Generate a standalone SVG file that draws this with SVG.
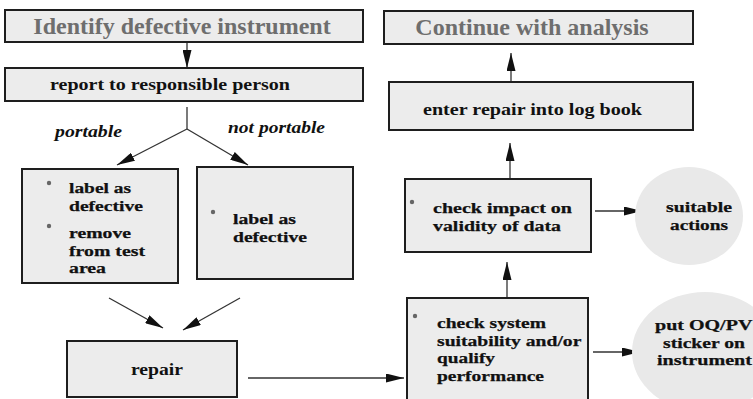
<svg xmlns="http://www.w3.org/2000/svg" width="753" height="399" viewBox="0 0 753 399">
  <defs>
    <marker id="arrow" markerUnits="userSpaceOnUse" markerWidth="18" markerHeight="9" refX="18" refY="4.5" orient="auto">
      <path d="M0,0 L18,4.5 L0,9 z" fill="#111"/>
    </marker>
    <style>
      .box { fill: #ececec; stroke: #1e1e1e; stroke-width: 2; }
      .oval { fill: #e9e9e9; stroke: none; }
      .title { font-family: "Liberation Serif", "Times New Roman", serif; font-weight: bold; font-size: 24px; fill: #6e6e6e; }
      .t { font-family: "Liberation Serif", "Times New Roman", serif; font-weight: bold; font-size: 15.5px; fill: #111; stroke: #111; stroke-width: 0.25; }
      .t1 { font-family: "Liberation Serif", "Times New Roman", serif; font-weight: bold; font-size: 17.5px; fill: #111; }
      .it { font-family: "Liberation Serif", "Times New Roman", serif; font-weight: bold; font-style: italic; font-size: 17.5px; fill: #111; }
      .mid { text-anchor: middle; }
      .dot { fill: #666; }
      .conn line { stroke: #333; stroke-width: 1.3; fill: none; }
    </style>
  </defs>
  <rect width="753" height="399" fill="#ffffff"/>

  <!-- connectors -->
  <g class="conn">
    <line x1="187" y1="42" x2="187" y2="68" marker-end="url(#arrow)"/>
    <line x1="187" y1="107" x2="187" y2="129"/>
    <line x1="187" y1="129" x2="117" y2="165" marker-end="url(#arrow)"/>
    <line x1="187" y1="129" x2="248" y2="165" marker-end="url(#arrow)"/>
    <line x1="109" y1="298" x2="163" y2="328" marker-end="url(#arrow)"/>
    <line x1="240" y1="298" x2="183" y2="330" marker-end="url(#arrow)"/>
    <line x1="248" y1="378" x2="404" y2="378" marker-end="url(#arrow)"/>
    <line x1="507" y1="298" x2="507" y2="262" marker-end="url(#arrow)"/>
    <line x1="510" y1="190" x2="510" y2="143" marker-end="url(#arrow)"/>
    <line x1="511" y1="100" x2="511" y2="53" marker-end="url(#arrow)"/>
    <line x1="595" y1="211" x2="642" y2="211" marker-end="url(#arrow)"/>
    <line x1="593" y1="352" x2="640" y2="352" marker-end="url(#arrow)"/>
  </g>

  <!-- branch labels -->
  <text class="it" x="55" y="137" textLength="67" lengthAdjust="spacingAndGlyphs">portable</text>
  <text class="it" x="228" y="133" textLength="97" lengthAdjust="spacingAndGlyphs">not portable</text>

  <g id="identify">
    <rect class="box" x="5" y="10" width="358" height="32"/>
    <text class="title mid" x="182" y="34">Identify defective instrument</text>
  </g>

  <g id="report">
    <rect class="box" x="5" y="68" width="358" height="33"/>
    <text class="t1" x="50" y="90" textLength="240" lengthAdjust="spacingAndGlyphs">report to responsible person</text>
  </g>

  <g id="portable">
    <rect class="box" x="22" y="169" width="156" height="114"/>
    <circle class="dot" cx="49" cy="183" r="2.2"/>
    <circle class="dot" cx="49" cy="226" r="2.2"/>
    <text class="t">
      <tspan x="69" y="193" textLength="62" lengthAdjust="spacingAndGlyphs">label as</tspan>
      <tspan x="69" y="210.5" textLength="74" lengthAdjust="spacingAndGlyphs">defective</tspan>
      <tspan x="69" y="238" textLength="62" lengthAdjust="spacingAndGlyphs">remove</tspan>
      <tspan x="69" y="255.5" textLength="76" lengthAdjust="spacingAndGlyphs">from test</tspan>
      <tspan x="69" y="273" textLength="37" lengthAdjust="spacingAndGlyphs">area</tspan>
    </text>
  </g>

  <g id="not-portable">
    <rect class="box" x="197" y="167" width="156" height="112"/>
    <circle class="dot" cx="213" cy="212" r="2.2"/>
    <text class="t">
      <tspan x="233" y="224" textLength="63" lengthAdjust="spacingAndGlyphs">label as</tspan>
      <tspan x="233" y="242" textLength="74" lengthAdjust="spacingAndGlyphs">defective</tspan>
    </text>
  </g>

  <g id="repair">
    <rect class="box" x="67" y="341" width="170" height="56"/>
    <text class="t1" x="131" y="375" textLength="52" lengthAdjust="spacingAndGlyphs">repair</text>
  </g>

  <g id="check-system">
    <rect class="box" x="407" y="298" width="181" height="106"/>
    <circle class="dot" cx="415" cy="316" r="2.2"/>
    <text class="t">
      <tspan x="437" y="328" textLength="109" lengthAdjust="spacingAndGlyphs">check system</tspan>
      <tspan x="437" y="345.5" textLength="144" lengthAdjust="spacingAndGlyphs">suitability and/or</tspan>
      <tspan x="437" y="363" textLength="58" lengthAdjust="spacingAndGlyphs">qualify</tspan>
      <tspan x="437" y="380.5" textLength="107" lengthAdjust="spacingAndGlyphs">performance</tspan>
    </text>
  </g>

  <g id="check-impact">
    <rect class="box" x="405" y="179" width="186" height="73"/>
    <circle class="dot" cx="412" cy="202" r="2.2"/>
    <text class="t">
      <tspan x="433" y="213" textLength="139" lengthAdjust="spacingAndGlyphs">check impact on</tspan>
      <tspan x="433" y="231" textLength="128" lengthAdjust="spacingAndGlyphs">validity of data</tspan>
    </text>
  </g>

  <g id="log-book">
    <rect class="box" x="389" y="82" width="304" height="48"/>
    <text class="t1" x="423" y="115" textLength="219" lengthAdjust="spacingAndGlyphs">enter repair into log book</text>
  </g>

  <g id="continue">
    <rect class="box" x="384" y="11" width="309" height="33"/>
    <text class="title mid" x="532" y="35">Continue with analysis</text>
  </g>

  <g id="suitable-actions">
    <ellipse class="oval" cx="689" cy="216" rx="54" ry="49"/>
    <text class="t">
      <tspan x="666" y="212" textLength="66" lengthAdjust="spacingAndGlyphs">suitable</tspan>
      <tspan x="670" y="229.5" textLength="58" lengthAdjust="spacingAndGlyphs">actions</tspan>
    </text>
  </g>

  <g id="sticker">
    <ellipse class="oval" cx="705" cy="352" rx="73" ry="60"/>
    <text class="t">
      <tspan x="655" y="330" textLength="97" lengthAdjust="spacingAndGlyphs">put OQ/PV</tspan>
      <tspan x="663" y="347.5" textLength="82" lengthAdjust="spacingAndGlyphs">sticker on</tspan>
      <tspan x="657" y="365" textLength="95" lengthAdjust="spacingAndGlyphs">instrument</tspan>
    </text>
  </g>
</svg>
